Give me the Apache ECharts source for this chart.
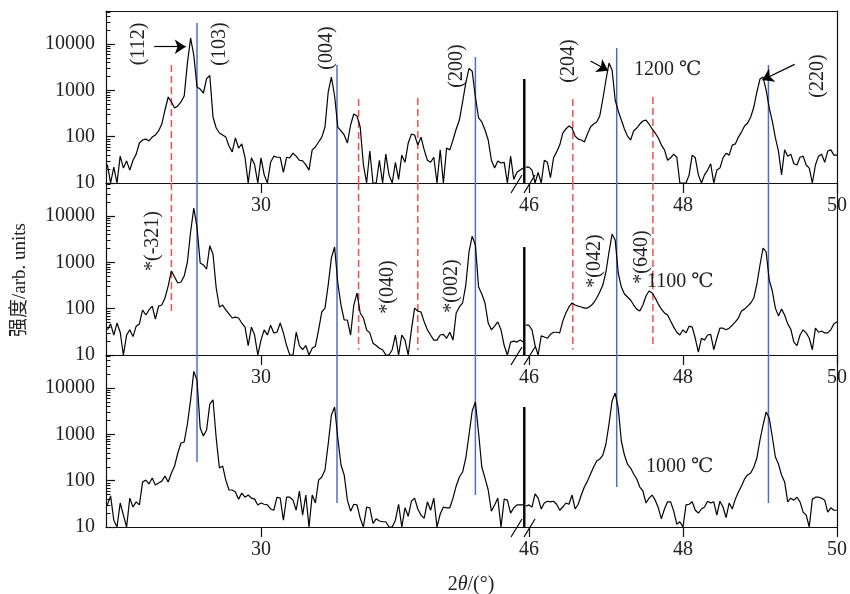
<!DOCTYPE html>
<html><head><meta charset="utf-8">
<script src="https://cdn.jsdelivr.net/npm/echarts@6/dist/echarts.min.js"></script>
<style>html,body{margin:0;padding:0;background:#fff}#c{width:850px;height:594px}</style>
</head><body><div id="c"></div>
<script>
// ---- data: 2θ grids (deg) ----
const thetaLeft = [
28.08,28.12,28.16,28.20,28.24,28.28,28.32,28.36,28.40,28.44,
28.48,28.52,28.56,28.60,28.64,28.68,28.72,28.76,28.80,28.84,
28.88,28.92,28.96,29.00,29.04,29.08,29.12,29.16,29.20,29.24,
29.28,29.32,29.36,29.40,29.44,29.48,29.52,29.56,29.60,29.64,
29.68,29.72,29.76,29.80,29.84,29.88,29.92,29.96,30.00,30.04,
30.08,30.12,30.16,30.20,30.24,30.28,30.32,30.36,30.40,30.44,
30.48,30.52,30.56,30.60,30.64,30.68,30.72,30.76,30.80,30.84,
30.88,30.92,30.96,31.00,31.04,31.08,31.12,31.16,31.20,31.24,
31.28,31.32,31.36,31.40,31.44,31.48,31.52,31.56,31.60,31.64,
31.68,31.72,31.76,31.80,31.84,31.88,31.92,31.96,32.00,32.04,
32.08,32.12,32.16,32.20,32.24,32.28,32.32,32.36,32.40,32.44,
32.48,32.52,32.56,32.60,32.64,32.68,32.72,32.76,32.80,32.84,
32.88,32.92,32.96,33.00,33.04,33.08,33.12,33.16,33.20,33.24,
33.28];
const thetaRight = [
45.96,46.00,46.04,46.08,46.12,46.16,46.20,46.24,46.28,46.32,
46.36,46.40,46.44,46.48,46.52,46.56,46.60,46.64,46.68,46.72,
46.76,46.80,46.84,46.88,46.92,46.96,47.00,47.04,47.08,47.12,
47.16,47.20,47.24,47.28,47.32,47.36,47.40,47.44,47.48,47.52,
47.56,47.60,47.64,47.68,47.72,47.76,47.80,47.84,47.88,47.92,
47.96,48.00,48.04,48.08,48.12,48.16,48.20,48.24,48.28,48.32,
48.36,48.40,48.44,48.48,48.52,48.56,48.60,48.64,48.68,48.72,
48.76,48.80,48.84,48.88,48.92,48.96,49.00,49.04,49.08,49.12,
49.16,49.20,49.24,49.28,49.32,49.36,49.40,49.44,49.48,49.52,
49.56,49.60,49.64,49.68,49.72,49.76,49.80,49.84,49.88,49.92,
49.96,50.00];

// ---- intensities (arb. units) ----
const i1200Left = [
25,10,22,10,38,21,30,19,31,42,
73,85,89,81,98,109,133,188,378,721,
563,417,461,563,758,3900,13500,5800,1190,1070,
880,1800,2100,267,154,120,109,98,63,47,
94,57,70,36,10,35,25,10,35,15,
10,28,38,36,36,17,36,35,44,38,
31,30,25,19,52,60,77,98,162,925,
1950,758,162,133,109,73,179,310,280,162,
25,10,49,10,10,31,10,42,15,10,
28,12,40,28,73,114,109,66,98,52,
31,28,36,10,52,10,57,52,85,147,
229,563,1450,3000,2600,721,254,208,140,85,
31,21,30,27,28,10,38,12,17,19,
21];
const i1200Right = [
22,22,19,10,17,10,31,28,13,35,
47,66,120,147,170,154,103,89,85,77,
114,162,188,208,280,653,1680,3906,2760,622,
359,229,147,103,85,133,154,188,218,229,
188,147,120,94,66,52,31,35,42,36,
10,10,10,15,40,35,15,10,15,19,
26,10,19,21,35,44,40,66,70,98,
126,170,198,267,438,925,1764,1948,1020,417,
218,94,49,15,52,38,42,26,24.5,36,
38,24.5,21,10,24.5,38,42,28,49,52,
40,40];
const i1100Left = [
35,47,27,49,31,10,27,35,25,42,
47,94,73,94,114,60,114,120,170,310,
653,484,359,378,509,1020,4540,15000,5813,971,
880,721,2300,1500,280,109,120,94,77,63,
66,63,49,40,16,40,27,10,21,35,
27,44,30,31,49,30,16,10,10,31,
16,13,16,10,14,15.5,35,85,103,325,
1250,2151,359,120,57,57,27,120,218,81,
63,35,30,18,16,14,13,10,10,13,
27,10,27,21,10,35,103,89,85,52,
35,27,21,21,27,28,23,31,21,81,
109,133,325,1680,3700,2376,294,208,133,49,
35,42,52,35,16,10,19,20,19,21,
19];
const i1100Right = [
44,44,35,16,10,26,24.5,23,28,31,
31,30,54,81,109,133,120,114,109,103,
103,114,133,170,229,325,622,1680,4100,3050,
591,294,208,179,154,120,98,89,120,188,
241,218,170,126,98,81,73,54,40,31,
27,35,30,42,40,23,11.5,23,21,27,
28,13,23,38,38,35,38,44,52,63,
89,98,114,133,170,342,880,2050,1680,417,
241,103,70,98,73,47,36,19,16,27,
35,30,23,13,38,31,33,30,30,35,
47,52];
const i1000Left = [
30,47,14,10,33,18,10,42,27,35,
30,94,103,85,114,81,89,98,126,94,
147,208,397,653,687,1680,5530,23000,15000,1375,
925,1250,4500,5600,838,188,208,103,63,63,
57,40,54,44,49,42,40,30,33,31,
30,24.5,23,44,42,14,44,44,38,23,
60,18,49,10,49,33,103,120,170,622,
2625,3906,838,218,133,38,22,31,30,15.5,
10,27,26,12,15,13.5,13,13,10,10,
14,31,10,26,17,36,42,24.5,18,15.5,
35,23,42,10,19,27,26,26,42,77,
120,154,310,971,3202,5000,1073,198,114,63,
22,30,42,10,40,38,20,26,30,30,
30];
const i1000Right = [
28,30,27,52,42,24.5,33,36,35,36,
31,23,27,33,31,49,24.5,31,49,73,
98,140,198,267,294,359,622,1680,5263,7832,
3700,721,359,229,188,140,109,73,60,33,
42,49,38,26,15,24.5,35,35,22,11.5,
13,10,30,31,35,23,20,24.5,27,36,
33,35,18,36,27,16,33,24.5,40,57,
77,109,133,147,198,310,758,1597,3050,2260,
880,325,229,133,94,35,42,38,44,35,
21,18,10,40,44,44,42,38,21,26,
23,23];
// intensity reached by the curve inside the axis break (per panel, top->bottom)
const breakPeaks = [1760, 2150, 3900];
const breakTheta = 45.94;

// reference lines
const blueLeft = [29.20, 30.95, 32.68];
const blueRight = [47.14, 49.11];
const blueTopStart = [28500, 3540, 5260, 8230, 3540];   // in 1200 panel
const blueBottomEnd = [254, 33, 49, 73, 33];            // in 1000 panel
const redLeft = [28.88, 31.22, 31.96];
const redRight = [46.57, 47.61];
const redTopStart = [3540, 653, 687, 653, 721];         // in 1200 panel
const redMidEnd = [73, 13, 13, 13, 14];                 // in 1100 panel

// arrows (data coords) in 1200 panel
const arrowsLeft = [[[28.666, 8790], [29.06, 8790]]];
const arrowsRight = [[[46.80, 4310], [47.03, 2670]], [[49.45, 3660], [49.03, 1680]]];

const yTicks = [10, 100, 1000, 10000];
const yMinor = [20,30,40,50,60,70,80,90,200,300,400,500,600,700,800,900,
  2000,3000,4000,5000,6000,7000,8000,9000,20000,30000,40000,50000];
const xTicksLeft = [30];
const xTicksRight = [46, 48, 50];
const temps = ['1200 ℃', '1100 ℃', '1000 ℃'];

// ---- layout ----
const XL = [28.0625, 33.2875], XR = [45.9363, 50];
const YMIN = 10, YMAX = 52000;
const L = 106, B = 524, R = 843, H = 172, TOPS = [11, 183, 355];
const FONT = "'Liberation Serif','DejaVu Serif','Noto Sans CJK SC',serif";
const AX = '#111', TX = '#222';
const BLUE = '#4f6fc4', RED = '#ee5050';

const panels = [
  {L: i1200Left, R: i1200Right},
  {L: i1100Left, R: i1100Right},
  {L: i1000Left, R: i1000Right}
];
const grids = [], xAxes = [], yAxes = [], series = [];
const zip = (xs, ys) => xs.map((x, i) => [x, ys[i]]);

function xAx(grid, range, ticks) {
  return {type:'value', gridIndex:grid, min:range[0], max:range[1], position:'bottom',
    axisLine:{show:true, onZero:false, lineStyle:{color:AX, width:1.2}},
    axisTick:{show:true, inside:false, length:10, customValues:ticks, lineStyle:{color:AX, width:1.2}},
    axisLabel:{show:true, customValues:ticks, margin:13, fontSize:20, fontFamily:FONT, color:TX},
    splitLine:{show:false}};
}
function yLog(grid, pos) {
  return {type:'log', logBase:10, gridIndex:grid, min:YMIN, max:YMAX, position:pos,
    axisLine:{show:false, lineStyle:{color:AX, width:1.2}}, axisTick:{show:false},
    axisLabel:{show:false}, splitLine:{show:false}};
}
function vseg(x, ya, yb, xi, yi, color, dashed) {
  return {type:'line', xAxisIndex:xi, yAxisIndex:yi, data:[[x, ya], [x, yb]], symbol:'none',
    silent:true, z:1, lineStyle:{color:color, width:1.5, type: dashed ? [7, 4] : 'solid'}};
}
function arrowML(list) {
  return {silent:true, symbol:['none', 'arrow'], symbolSize:11, animation:false,
    lineStyle:{color:'#000', width:1.2, type:'solid'}, label:{show:false},
    data: list.map(a => [{coord:a[0]}, {coord:a[1]}])};
}

panels.forEach((p, i) => {
  const top = TOPS[i];
  grids.push({left:L, top:top, width:B - L, height:H});
  grids.push({left:B, top:top, width:R - B, height:H});
  xAxes.push(xAx(2 * i, XL, xTicksLeft));
  xAxes.push(xAx(2 * i + 1, XR, xTicksRight));
  const yMain = yLog(2 * i, 'left');
  yMain.axisLine.show = true;
  yMain.axisTick = {show:true, inside:true, length:9, customValues:yTicks, lineStyle:{color:AX, width:1.2}};
  yMain.axisLabel = {show:true, customValues:yTicks, margin:11, fontSize:20, fontFamily:FONT, color:TX,
    formatter: v => String(Math.round(v))};
  const yMin = yLog(2 * i, 'left');
  yMin.axisTick = {show:true, inside:true, length:4.5, customValues:yMinor, lineStyle:{color:AX, width:1}};
  const yRight = yLog(2 * i + 1, 'right');
  yRight.axisLine.show = true;
  yAxes.push(yMain, yMin, yRight);

  const xiL = 2 * i, xiR = 2 * i + 1, yiL = 3 * i, yiR = 3 * i + 2;
  const sL = {type:'line', xAxisIndex:xiL, yAxisIndex:yiL, data:zip(thetaLeft, p.L), symbol:'none',
    z:3, lineStyle:{color:'#000', width:1.2}};
  const sR = {type:'line', xAxisIndex:xiR, yAxisIndex:yiR, data:zip(thetaRight, p.R), symbol:'none',
    z:3, lineStyle:{color:'#000', width:1.2}};
  if (i === 0) { sL.markLine = arrowML(arrowsLeft); sR.markLine = arrowML(arrowsRight); }
  series.push(sL, sR);
  series.push({type:'line', xAxisIndex:xiR, yAxisIndex:yiR, clip:false, symbol:'none', z:3,
    data:[[breakTheta, YMIN], [breakTheta, breakPeaks[i]]], lineStyle:{color:'#000', width:2.4}});

  // reference lines
  const blues = blueLeft.map(v => [v, xiL, yiL]).concat(blueRight.map(v => [v, xiR, yiR]));
  const reds = redLeft.map(v => [v, xiL, yiL]).concat(redRight.map(v => [v, xiR, yiR]));
  blues.forEach((b, k) => {
    let a, c;
    if (i === 0) { a = blueTopStart[k]; c = YMIN; }
    else if (i === 1) { a = YMAX; c = YMIN; }
    else { a = YMAX; c = blueBottomEnd[k]; }
    series.push(vseg(b[0], a, c, b[1], b[2], BLUE, false));
  });
  if (i < 2) reds.forEach((r, k) => {
    const a = i === 0 ? redTopStart[k] : YMAX;
    const c = i === 0 ? YMIN : redMidEnd[k];
    series.push(vseg(r[0], a, c, r[1], r[2], RED, true));
  });
});
// top frame line of first panel
[[0, XL], [1, XR]].forEach(g => xAxes.push({type:'value', gridIndex:g[0], min:g[1][0], max:g[1][1],
  position:'top', axisLine:{show:true, onZero:false, lineStyle:{color:AX, width:1.2}},
  axisTick:{show:false}, axisLabel:{show:false}, splitLine:{show:false}}));

// ---- graphics: texts & break marks ----
const graphic = [];
const rotLabels = [
  ['(112)', 139, 44], ['(103)', 220, 44], ['(004)', 327, 48], ['(200)', 457, 66],
  ['(204)', 569, 61], ['(220)', 818, 76],
  ['*(-321)', 153, 241], ['*(040)', 388, 287], ['*(002)', 452, 286],
  ['*(042)', 595, 261], ['*(640)', 642, 257]
];
rotLabels.forEach(t => graphic.push({type:'text', x:t[1], y:t[2], rotation:Math.PI / 2, z:20,
  style:{text:t[0], fill:TX, fontSize:20, fontFamily:FONT, align:'center', verticalAlign:'middle'}}));
[[634, 70], [647, 282], [646, 467]].forEach((pos, i) => graphic.push({type:'text', x:pos[0], y:pos[1], z:20,
  style:{text:temps[i], fill:TX, fontSize:20, fontFamily:FONT, align:'left', verticalAlign:'middle'}}));
graphic.push({type:'text', x:20, y:280, rotation:Math.PI / 2, z:20,
  style:{text:'强度/arb. units', fill:TX, fontSize:19, fontFamily:FONT, align:'center', verticalAlign:'middle'}});
graphic.push({type:'text', x:471, y:585, z:20,
  style:{text:'{a|2}{b|θ}{a|/(°)}', fill:TX, align:'center', verticalAlign:'middle',
    rich:{a:{fontSize:20, fontFamily:FONT, fill:TX}, b:{fontSize:20, fontFamily:FONT, fontStyle:'italic', fill:TX}}}});
TOPS.forEach(t => {
  const yb = t + H;
  graphic.push({type:'line', z:20, shape:{x1:511, y1:yb + 10, x2:522, y2:yb - 8}, style:{stroke:'#000', lineWidth:1.2}});
  graphic.push({type:'line', z:20, shape:{x1:524, y1:yb + 10, x2:535, y2:yb - 8}, style:{stroke:'#000', lineWidth:1.2}});
});

const chart = echarts.init(document.getElementById('c'), null, {renderer:'canvas'});
chart.setOption({animation:false, backgroundColor:'#fff', textStyle:{fontFamily:FONT},
  grid:grids, xAxis:xAxes, yAxis:yAxes, series:series, graphic:graphic});
</script></body></html>
